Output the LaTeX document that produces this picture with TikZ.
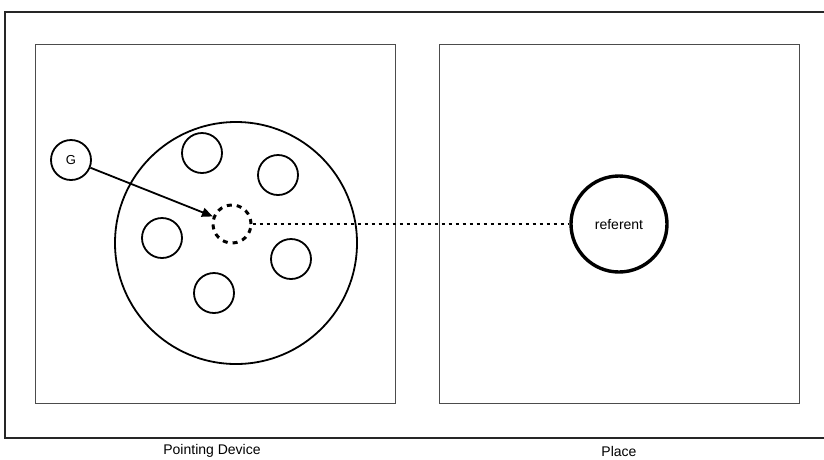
\documentclass[tikz,border=0pt]{standalone}
\usepackage{fontspec}
\setmainfont{Liberation Sans}
\usetikzlibrary{arrows.meta}
\begin{document}
\begin{tikzpicture}[x=1pt,y=-1pt,
  frame/.style={draw=black!85,line width=1.8pt},
  panel/.style={draw=black!70,line width=1pt},
  disc/.style={circle,draw,line width=1.8pt,inner sep=0pt},
  lbl/.style={font=\fontsize{14}{16}\selectfont}]
\useasboundingbox (0,0) rectangle (824,459);
% outer frame and the two panels
\draw[frame] (5,12) rectangle (830,438);
\draw[panel] (35,44) rectangle (395,403);
\draw[panel] (439,44) rectangle (799,403);
\node[lbl] (pdlabel) at (212,451) {Pointing Device};
\node[lbl] (placelabel) at (619,451) {Place};
% pointing device: wheel of options
\node[disc,minimum size=242pt] (wheel) at (236,243) {};
\node[disc,minimum size=40pt] (o1) at (202,153) {};
\node[disc,minimum size=40pt] (o2) at (278,175) {};
\node[disc,minimum size=40pt] (o3) at (162,238) {};
\node[disc,minimum size=40pt] (o4) at (291,259) {};
\node[disc,minimum size=40pt] (o5) at (214,293) {};
\node[disc,minimum size=38pt,line width=3pt,dash pattern=on 5pt off 5pt] (focus) at (232,224) {};
\node[disc,minimum size=40pt,font=\fontsize{13}{15}\selectfont] (g) at (71,160) {G};
\draw[line width=1.8pt,-{Triangle[length=11pt,width=9pt]}] (g) -- (focus);
% place: the referent
\node[disc,minimum size=96pt,line width=3.4pt,lbl] (ref) at (619,224) {referent};
\draw[line width=1.7pt,dash pattern=on 3.5pt off 3.5pt] (focus.east) -- (ref.west);
\end{tikzpicture}
\end{document}
